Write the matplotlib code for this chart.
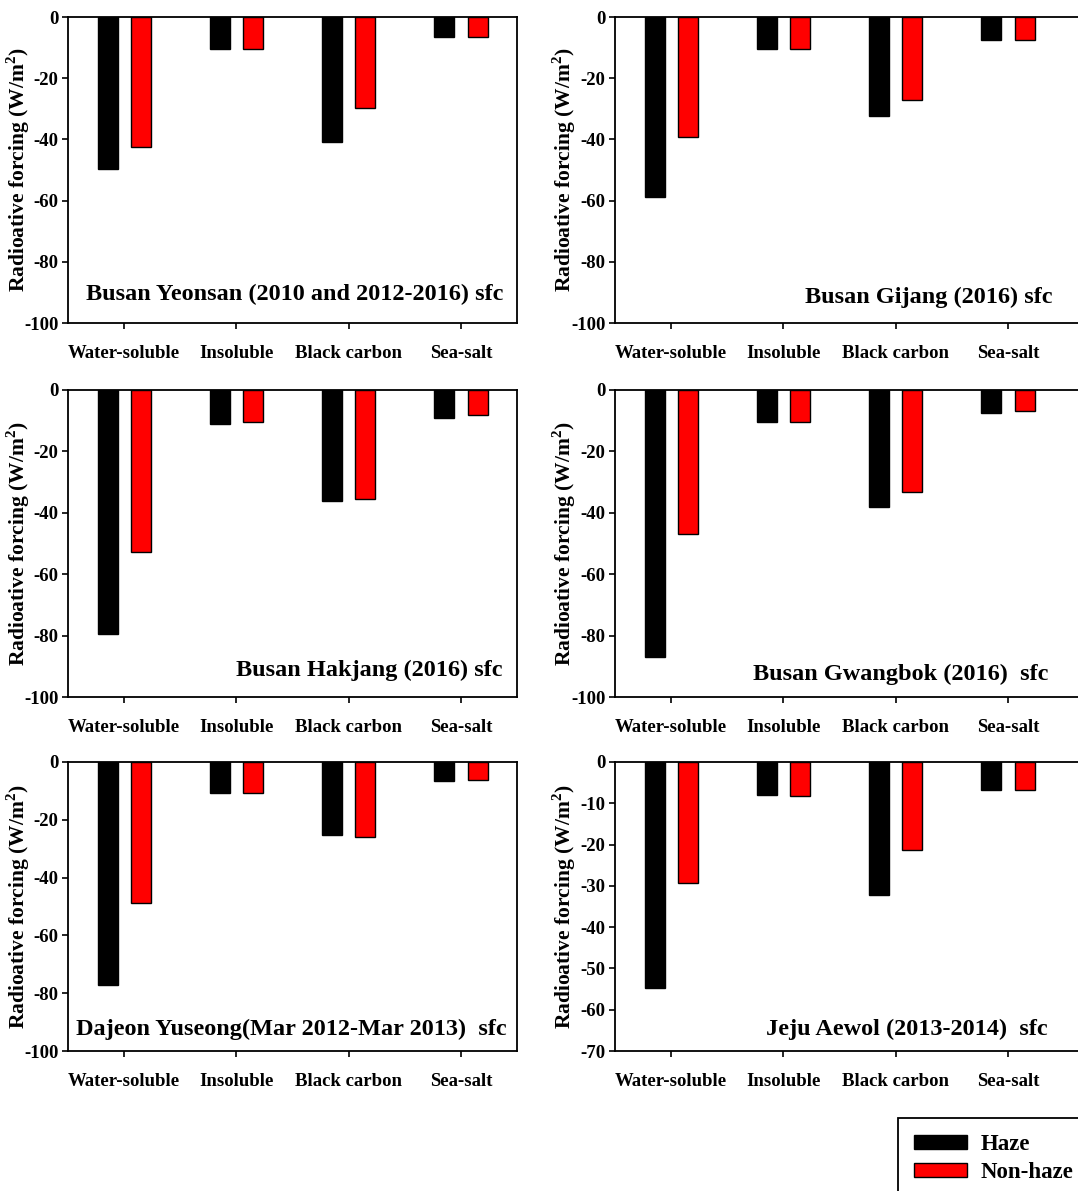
import matplotlib

matplotlib.use("Agg")
import matplotlib.pyplot as plt
import numpy as np
from matplotlib.patches import Patch

plt.rcParams["font.family"] = ["Liberation Serif", "DejaVu Serif"]
plt.rcParams["font.weight"] = "bold"
plt.rcParams["mathtext.fontset"] = "custom"
plt.rcParams["mathtext.rm"] = "Liberation Serif:bold"

CATEGORIES = ["Water-soluble", "Insoluble", "Black carbon", "Sea-salt"]

SITES = [
    "Busan Yeonsan (2010 and 2012-2016) sfc",
    "Busan Gijang (2016) sfc",
    "Busan Hakjang (2016) sfc",
    "Busan Gwangbok (2016)  sfc",
    "Dajeon Yuseong(Mar 2012-Mar 2013)  sfc",
    "Jeju Aewol (2013-2014)  sfc",
]

HAZE = [
    [-49.7, -10.6, -40.9, -6.6],
    [-58.8, -10.5, -32.2, -7.6],
    [-79.5, -11.0, -36.0, -9.1],
    [-87.0, -10.4, -38.0, -7.6],
    [-77.0, -10.6, -25.1, -6.6],
    [-54.7, -8.0, -32.2, -6.7],
]
NON_HAZE = [
    [-42.6, -10.6, -29.7, -6.6],
    [-39.2, -10.5, -27.2, -7.6],
    [-52.9, -10.4, -35.5, -8.0],
    [-46.9, -10.4, -33.1, -7.0],
    [-48.8, -10.6, -26.0, -6.1],
    [-29.4, -8.3, -21.2, -6.7],
]

Y_MIN = [-100, -100, -100, -100, -100, -70]
Y_STEP = [20, 20, 20, 20, 20, 10]

W, H = 1078, 1191
# axes boxes in pixels
ROWS = [(17, 323), (390, 697), (762, 1051)]
COLS = [(68, 517), (615, 1080)]
TEXT_POS = [(0.969, 0.092), (0.94, 0.085), (0.967, 0.088),
            (0.933, 0.072), (0.978, 0.073), (0.931, 0.073)]

fig = plt.figure(figsize=(W / 100, H / 100), dpi=100)

x = np.arange(len(CATEGORIES))
bar_w = 0.178
off = 0.148

for i, site in enumerate(SITES):
    top, bot = ROWS[i // 2]
    left, right = COLS[i % 2]
    ax = fig.add_axes([left / W, 1 - bot / H, (right - left) / W, (bot - top) / H])
    ax.bar(x - off, HAZE[i], bar_w, color="black", edgecolor="black", linewidth=1.0)
    ax.bar(x + off, NON_HAZE[i], bar_w, color="#ff0000", edgecolor="black", linewidth=1.0)

    ticks = np.arange(Y_MIN[i], 1, Y_STEP[i])
    ax.set_ylim(Y_MIN[i], 0)
    ax.set_yticks(ticks)
    ax.set_yticklabels([str(v) for v in ticks])
    ax.set_xlim(-0.5, -0.5 + (right - left) / 112.3)
    ax.set_xticks(x)
    ax.set_xticklabels(CATEGORIES)
    ax.tick_params(axis="x", direction="out", length=4.5, width=1.2, pad=11, labelsize=13.5)
    ax.tick_params(axis="y", direction="out", length=4, width=1.2, pad=3, labelsize=13.5)
    for sp in ax.spines.values():
        sp.set_linewidth(1.3)
    ax.set_ylabel(r"Radioative forcing (W/m$^2$)", fontsize=15.5, fontweight="bold")
    ax.yaxis.set_label_coords(-0.08, 0.5)
    tx, ty = TEXT_POS[i]
    ax.text(tx, ty, site, transform=ax.transAxes, ha="right", va="center",
            fontsize=17.5, fontweight="bold")

handles = [Patch(facecolor="black", edgecolor="black", label="Haze"),
           Patch(facecolor="#ff0000", edgecolor="black", label="Non-haze")]
leg = fig.legend(handles=handles, loc="upper left", bbox_to_anchor=(898 / W, 1 - 1118 / H),
                 fontsize=16.5, handlelength=2.3, handleheight=0.57, handletextpad=0.6,
                 borderpad=0.7, labelspacing=0.32, borderaxespad=0, fancybox=False,
                 framealpha=1, edgecolor="black")
leg.get_frame().set_linewidth(1.3)

fig.savefig("out.png", dpi=100)
